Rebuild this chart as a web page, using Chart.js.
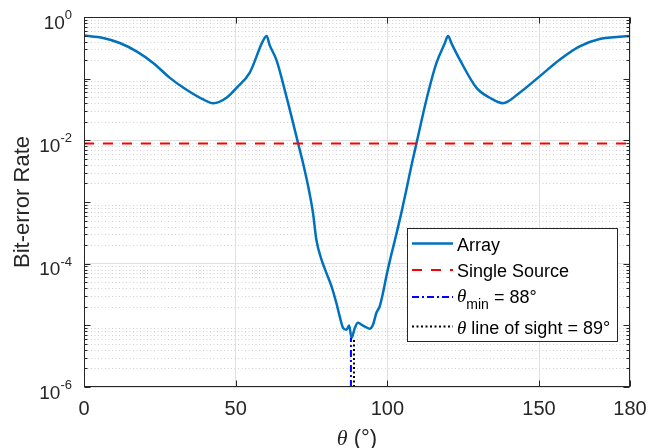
<!DOCTYPE html>
<html>
<head>
<meta charset="utf-8">
<title>Bit-error rate vs angle</title>
<script src="https://cdn.jsdelivr.net/npm/chart.js@4/dist/chart.umd.min.js"></script>
<style>
  html, body { margin: 0; padding: 0; background: #fff; }
  canvas { display: block; }
</style>
</head>
<body>
<canvas id="ber" width="660" height="448"></canvas>
<script>
// angle (deg) and bit-error rate of the array
const theta = [0, 6.3, 11.8, 17.3, 22.8, 28.3, 33.8, 39.3, 42.6, 47, 50.3, 54.6, 59, 60.2, 61.2, 63.4, 66.7,
  70.6, 72.2, 73.9, 75.5, 76.6, 78.3, 79.9, 81.6, 83.2, 84.3, 85.4, 86.5, 87.4, 88.2, 89.3, 90.3,
  92, 94.2, 95.3, 96.4, 97.5, 98.6, 99.7, 100.8, 102.4, 104.6, 106.3, 107.9, 109.6, 112.9, 116.2,
  118.8, 120, 121.2, 123.9, 129.4, 133.8, 138.1, 143.6, 150.2, 156.8, 163.4, 170, 180];
const berArray = [0.5, 0.457, 0.379, 0.277, 0.18, 0.103, 0.066, 0.046, 0.04, 0.049, 0.071, 0.124, 0.41, 0.49, 0.35, 0.203, 0.052,
  0.0089, 0.0043, 0.0018, 6.6e-4, 2.45e-4, 1.16e-4, 7.1e-5, 4.3e-5, 2.3e-5, 1.4e-5, 9.1e-6, 8.5e-6, 9.9e-6, 6.3e-6, 9.1e-6, 1.1e-5,
  9.9e-6, 8.8e-6, 1.03e-5, 1.6e-5, 2.04e-5, 3.4e-5, 6.3e-5, 1.1e-4, 2.3e-4, 6.6e-4, 1.6e-3, 3.8e-3, 8.9e-3, 0.046, 0.18,
  0.36, 0.49, 0.37, 0.203, 0.071, 0.049, 0.04, 0.059, 0.109, 0.203, 0.334, 0.44, 0.49];

// single source reference and the two marker angles
const berSingle = 0.0089;
const thetaMin = 88;
const thetaLos = 89;
const berAtMin = 6.3e-6;

const xTicks = [0, 50, 100, 150, 180];
const yTicks = [1e-6, 1e-4, 1e-2, 1];
const yExp = ['-6', '-4', '-2', '0'];

const AXIS = '#262626';
const SANS = '"Liberation Sans", Arial, sans-serif';
const SERIF = '"Liberation Serif", "Times New Roman", serif';

const pts = (xs, ys) => xs.map((x, i) => ({ x: x, y: ys[i] }));

// frame, inward ticks, minor grid and y tick labels (10 with superscript)
const axesDecor = {
  id: 'axesDecor',
  beforeDatasetsDraw(chart) {
    const { ctx, chartArea: a, scales: { y } } = chart;
    ctx.save();
    ctx.strokeStyle = '#d0d0d0';
    ctx.lineWidth = 1;
    ctx.setLineDash([1, 2.5]);
    for (let k = -6; k < 0; k++) {
      for (let m = 2; m <= 9; m++) {
        const py = Math.round(y.getPixelForValue(m * Math.pow(10, k))) + 0.5;
        ctx.beginPath();
        ctx.moveTo(a.left, py);
        ctx.lineTo(a.right, py);
        ctx.stroke();
      }
    }
    ctx.restore();
  },
  afterDraw(chart) {
    const { ctx, chartArea: a, scales: { x, y } } = chart;
    ctx.save();
    ctx.strokeStyle = AXIS;
    ctx.lineWidth = 1;
    ctx.setLineDash([]);
    const L = Math.round(a.left) + 0.5, R = Math.round(a.right) - 0.5;
    const T = Math.round(a.top) + 0.5, B = Math.round(a.bottom) - 0.5;
    ctx.strokeRect(L, T, R - L, B - T);
    ctx.beginPath();
    xTicks.forEach(v => {
      const px = Math.round(x.getPixelForValue(v)) + 0.5;
      ctx.moveTo(px, B); ctx.lineTo(px, B - 6);
      ctx.moveTo(px, T); ctx.lineTo(px, T + 6);
    });
    for (let k = -6; k <= 0; k++) {
      for (let m = 1; m <= 9; m++) {
        const v = m * Math.pow(10, k);
        if (v > 1) break;
        const py = Math.round(y.getPixelForValue(v)) + 0.5;
        const len = m === 1 ? 6 : 3;
        ctx.moveTo(L, py); ctx.lineTo(L + len, py);
        ctx.moveTo(R, py); ctx.lineTo(R - len, py);
      }
    }
    ctx.stroke();

    // y tick labels, right edge at x = 72
    ctx.fillStyle = AXIS;
    ctx.textBaseline = 'alphabetic';
    ctx.textAlign = 'left';
    yTicks.forEach((v, i) => {
      const py = y.getPixelForValue(v);
      ctx.font = '19px ' + SANS;
      const wBase = ctx.measureText('10').width;
      ctx.font = '13px ' + SANS;
      const wExp = ctx.measureText(yExp[i]).width;
      const left = 72 - wBase - wExp;
      ctx.font = '19px ' + SANS;
      ctx.fillText('10', left, py + 11.5);
      ctx.font = '13px ' + SANS;
      ctx.fillText(yExp[i], left + wBase, py + 2);
    });

    // x axis title: italic theta then (°)
    const cx = (a.left + a.right) / 2;
    ctx.font = 'italic 22px ' + SERIF;
    const wTh = ctx.measureText('\u03b8').width;
    ctx.font = '22px ' + SANS;
    const wRest = ctx.measureText(' (\u00b0)').width;
    const x0 = cx - (wTh + wRest) / 2;
    ctx.font = 'italic 22px ' + SERIF;
    ctx.fillText('\u03b8', x0, 445);
    ctx.font = '22px ' + SANS;
    ctx.fillText(' (\u00b0)', x0 + wTh, 445);
    ctx.restore();
  }
};

// legend box inside the axes, lower right
const legendBox = {
  id: 'legendBox',
  afterDraw(chart) {
    const ctx = chart.ctx;
    const bx = 407.5, by = 228.5, bw = 210, bh = 113;
    ctx.save();
    ctx.fillStyle = '#fff';
    ctx.fillRect(bx, by, bw, bh);
    ctx.strokeStyle = AXIS;
    ctx.lineWidth = 1;
    ctx.strokeRect(bx, by, bw, bh);

    const rows = [
      { y: 243.5, color: '#0072BD', dash: [], width: 2.5 },
      { y: 270, color: '#FF0000', dash: [10, 9], width: 2 },
      { y: 297, color: '#0000FF', dash: [7, 3, 2, 3], width: 2 },
      { y: 326.5, color: '#000000', dash: [2, 2.5], width: 2 }
    ];
    rows.forEach(r => {
      ctx.beginPath();
      ctx.setLineDash(r.dash);
      ctx.strokeStyle = r.color;
      ctx.lineWidth = r.width;
      ctx.moveTo(412, r.y);
      ctx.lineTo(453, r.y);
      ctx.stroke();
    });
    ctx.setLineDash([]);
    ctx.fillStyle = '#000';
    ctx.textAlign = 'left';
    ctx.textBaseline = 'alphabetic';
    const tx = 457;
    ctx.font = '18px ' + SANS;
    ctx.fillText('Array', tx, rows[0].y + 7);
    ctx.fillText('Single Source', tx, rows[1].y + 7);

    // theta_min row
    let px = tx;
    ctx.font = 'italic 19px ' + SERIF;
    ctx.fillText('\u03b8', px, rows[2].y + 5);
    px += ctx.measureText('\u03b8').width;
    ctx.font = '14px ' + SANS;
    ctx.fillText('min', px, rows[2].y + 12);
    px += ctx.measureText('min').width;
    ctx.font = '18px ' + SANS;
    ctx.fillText(' = ' + thetaMin + '\u00b0', px, rows[2].y + 6);

    // line of sight row
    px = tx;
    ctx.font = 'italic 19px ' + SERIF;
    ctx.fillText('\u03b8', px, rows[3].y + 7);
    px += ctx.measureText('\u03b8').width;
    ctx.font = '18px ' + SANS;
    ctx.fillText(' line of sight = ' + thetaLos + '\u00b0', px, rows[3].y + 7);
    ctx.restore();
  }
};

new Chart(document.getElementById('ber'), {
  type: 'line',
  data: {
    datasets: [{
      label: 'Array',
      data: pts(theta, berArray),
      borderColor: '#0072BD',
      borderWidth: 2.5,
      pointRadius: 0,
      cubicInterpolationMode: 'monotone',
      order: 4
    }, {
      label: 'Single Source',
      data: pts([0, 180], [berSingle, berSingle]),
      borderColor: '#FF0000',
      borderWidth: 2,
      borderDash: [10, 9],
      pointRadius: 0,
      order: 3
    }, {
      label: 'theta min',
      data: pts([thetaMin, thetaMin], [1e-6, berAtMin]),
      borderColor: '#0000FF',
      borderWidth: 2,
      borderDash: [7, 3, 2, 3],
      pointRadius: 0,
      order: 2
    }, {
      label: 'theta line of sight',
      data: pts([thetaLos, thetaLos], [1e-6, berAtMin]),
      borderColor: '#000000',
      borderWidth: 2,
      borderDash: [2, 2.5],
      pointRadius: 0,
      order: 1
    }]
  },
  options: {
    responsive: false,
    devicePixelRatio: 1,
    animation: false,
    events: [],
    layout: { padding: { left: 0, right: 30, top: 17, bottom: 0 } },
    plugins: { legend: { display: false }, tooltip: { enabled: false } },
    scales: {
      x: {
        type: 'linear',
        min: 0,
        max: 180,
        afterBuildTicks: s => { s.ticks = xTicks.map(v => ({ value: v })); },
        afterFit: s => { s.height = 61; },
        grid: { color: '#e0e0e0', drawTicks: false },
        border: { display: false },
        ticks: { color: AXIS, font: { family: SANS, size: 20 }, padding: 10, maxRotation: 0 }
      },
      y: {
        type: 'logarithmic',
        min: 1e-6,
        max: 1,
        afterBuildTicks: s => { s.ticks = yTicks.map(v => ({ value: v })); },
        afterFit: s => { s.width = 84; },
        grid: { color: '#e0e0e0', drawTicks: false },
        border: { display: false },
        ticks: { display: false },
        title: {
          display: true,
          text: 'Bit-error Rate',
          color: AXIS,
          font: { family: SANS, size: 22 },
          padding: { top: 10, bottom: 0 }
        }
      }
    }
  },
  plugins: [axesDecor, legendBox]
});
</script>
</body>
</html>
